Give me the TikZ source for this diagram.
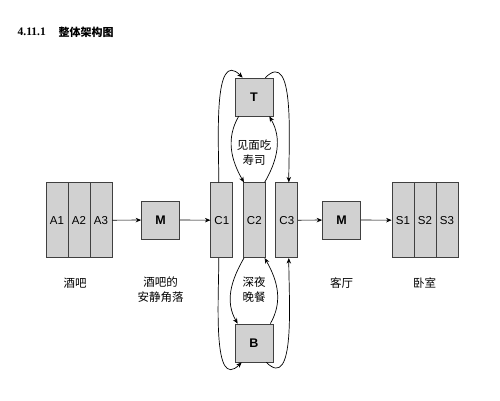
\documentclass[tikz,border=0pt]{standalone}
\usepackage{fontspec}
\setmainfont{Liberation Sans}
\newfontfamily\cjk{Noto Sans CJK SC}
\newfontfamily\numfont{Liberation Serif}
\usetikzlibrary{arrows.meta}

\begin{document}
\begin{tikzpicture}[x=1pt,y=1pt,line width=0.7pt,
    font=\fontsize{11.5}{15}\selectfont,
    room/.style={draw=black!75,fill=black!18,minimum width=22pt,minimum height=75pt,inner sep=0pt},
    hub/.style={draw=black!75,fill=black!18,minimum width=38pt,minimum height=38pt,font=\fontsize{12.5}{15}\selectfont\bfseries},
    tag/.style={align=center,font=\fontsize{11.5}{15}\selectfont\cjk},
    link/.style={-{Stealth[length=5.5pt,width=4.5pt]}}]
    \useasboundingbox (0,0) rectangle (500,400);
    % heading
    \node[anchor=west] (num) at (14,368) {\numfont\bfseries 4.11.1};
    \node[anchor=west,font=\fontsize{11}{15}\selectfont\cjk\bfseries] (title) at (55,368) {整体架构图};
    \begin{scope}
      \foreach \i in {1,2,3}{
        \node[room] (a\i) at (35+22*\i,179.8) {A\i};
      }
      \node[hub] (m1) at (160.5,180) {M};
      \node[tag] (bar) at (75,117) {酒吧};
      \node[tag] (corner) at (160.5,110) {酒吧的\\安静角落};
    \end{scope}
    \begin{scope}
      \foreach \i in {1,2,3}{
        \pgfmathsetmacro\cx{189.3+32.5*\i}
        \node[room] (c\i) at (\cx,179.8) {C\i};
      }
      \node[hub] (t) at (254,303) {T};
      \node[hub] (b) at (254,57) {B};
      \node[tag] (sushi) at (254,247.5) {见面吃\\寿司};
      \node[tag] (supper) at (254,110.5) {深夜\\晚餐};
    \end{scope}
    \begin{scope}
      \node[hub] (m2) at (341.5,180) {M};
      \foreach \i in {1,2,3}{
        \node[room] (s\i) at (381+22*\i,179.8) {S\i};
      }
      \node[tag] (hall) at (341.5,117) {客厅};
      \node[tag] (bed) at (424.5,117) {卧室};
    \end{scope}
    % straight links
    \draw[link] (a3) -- (m1);
    \draw[link] (m1) -- (c1);
    \draw[link] (c3) -- (m2);
    \draw[link] (m2) -- (s1);
    % loops round T
    \draw[link] ([xshift=-3pt]c1.north) to[out=90,in=135] ([xshift=8pt]t.north west);
    \draw[link] ([xshift=-8pt]t.north east) to[out=45,in=90] ([xshift=2pt]c3.north);
    \draw[link] ([xshift=4pt]t.south west) to[out=240,in=120] ([xshift=1pt]c2.north west);
    \draw[link] ([xshift=-1pt]c2.north east) to[out=60,in=300] ([xshift=-4pt]t.south east);
    % loops round B
    \draw[link] ([xshift=1pt]c2.south west) to[out=240,in=120] ([xshift=3pt]b.north west);
    \draw[link] ([xshift=-3pt]b.north east) to[out=60,in=300] ([xshift=-1pt]c2.south east);
    \draw[link] ([xshift=-3pt]c1.south) to[out=270,in=225] ([xshift=7pt]b.south west);
    \draw[link] ([xshift=-7pt]b.south east) to[out=315,in=270] ([xshift=2pt]c3.south);
\end{tikzpicture}
\end{document}
